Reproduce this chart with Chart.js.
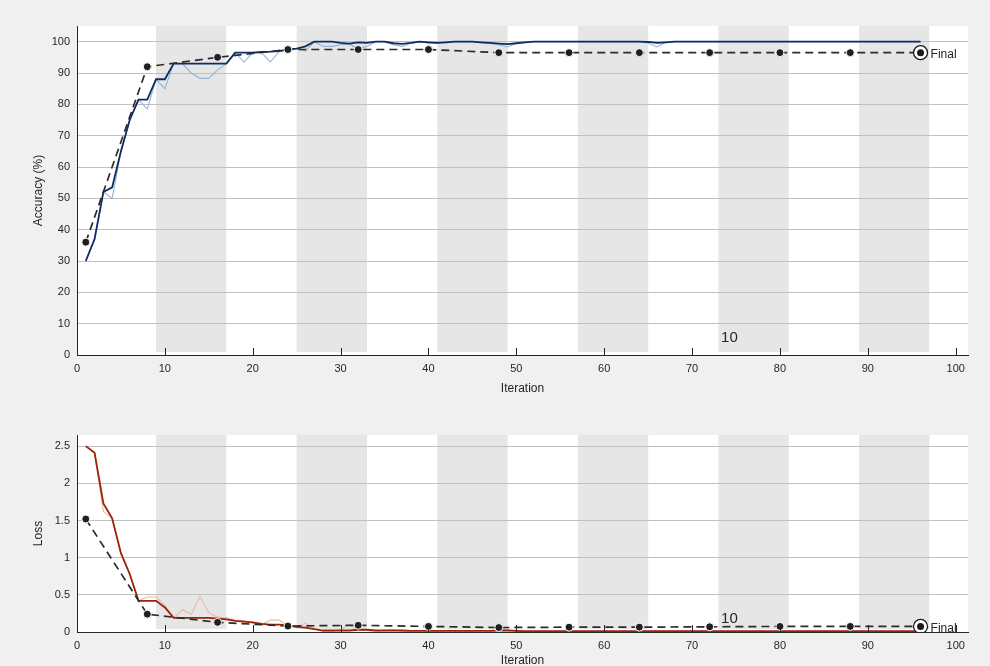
<!DOCTYPE html>
<html>
<head>
<meta charset="utf-8">
<script src="https://cdn.jsdelivr.net/npm/chart.js@4"></script>
<style>
  html, body { margin: 0; padding: 0; background: #f0f0f0; }
  body { width: 990px; height: 666px; position: relative; overflow: hidden; }
  .box { position: absolute; left: 0; width: 990px; }
</style>
</head>
<body>
<div class="box" style="top:0;height:400px"><canvas id="accChart"></canvas></div>
<div class="box" style="top:400px;height:266px"><canvas id="lossChart"></canvas></div>
<script>
// training progress, 12 epochs x 8 iterations
const iterations = Array.from({ length: 96 }, (_, i) => i + 1);

const accRaw = [30, 37, 52, 50, 65, 75, 81.5, 78.5, 88, 85,
  93, 93, 90, 88.3, 88.3, 91, 93, 96.5, 93.5, 96.5,
  96.5, 93.5, 96.8, 97.5, 97.8, 97, 100, 98.5, 98.5, 99,
  99.2, 97.8, 98.5, 100, 100, 99, 98.5, 99.5, 100, 99.5,
  99.5, 100, 100, 100, 100, 99.6, 99.4, 99, 98.3, 99.5,
  100, 100, 100, 100, 100, 100, 100, 100, 100, 100,
  100, 100, 100, 100, 99.6, 98.3, 99.8, 100, 100, 100,
  100, 100, 100, 100, 100, 100, 100, 100, 100, 100,
  100, 100, 100, 100, 100, 100, 100, 100, 100, 100,
  100, 100, 100, 100, 100, 100];

const accSmooth = [30, 37, 52, 53.5, 65, 75, 81.5, 81.5, 88, 88,
  93, 93, 93, 93, 93, 93, 93, 96.5, 96.5, 96.5,
  96.7, 96.8, 97, 97.5, 97.8, 98.5, 100, 100, 100, 99.6,
  99.4, 99.8, 99.6, 100, 100, 99.5, 99.3, 99.6, 100, 99.8,
  99.6, 99.8, 100, 100, 100, 99.8, 99.6, 99.4, 99.2, 99.5,
  99.8, 100, 100, 100, 100, 100, 100, 100, 100, 100,
  100, 100, 100, 100, 99.9, 99.6, 99.8, 100, 100, 100,
  100, 100, 100, 100, 100, 100, 100, 100, 100, 100,
  100, 100, 100, 100, 100, 100, 100, 100, 100, 100,
  100, 100, 100, 100, 100, 100];

const lossRaw = [2.5, 2.41, 1.62, 1.53, 1.06, 0.78, 0.42, 0.47, 0.47, 0.36,
  0.19, 0.3, 0.24, 0.48, 0.26, 0.2, 0.19, 0.16, 0.15, 0.12,
  0.1, 0.16, 0.16, 0.08, 0.06, 0.12, 0.04, 0.01, 0.01, 0.03,
  0.1, 0.03, 0.02, 0.01, 0.02, 0.03, 0.01, 0.01, 0.02, 0.01,
  0.01, 0.02, 0.01, 0.01, 0.01, 0.02, 0.01, 0.02, 0.03, 0.01,
  0.01, 0.01, 0.01, 0.01, 0.01, 0.01, 0.01, 0.01, 0.01, 0.01,
  0.01, 0.01, 0.01, 0.01, 0.01, 0.02, 0.01, 0.01, 0.01, 0.01,
  0.01, 0.01, 0.01, 0.01, 0.01, 0.01, 0.01, 0.01, 0.01, 0.01,
  0.01, 0.01, 0.01, 0.01, 0.01, 0.01, 0.01, 0.01, 0.01, 0.01,
  0.01, 0.01, 0.01, 0.01, 0.01, 0.01];

const lossSmooth = [2.5, 2.41, 1.73, 1.53, 1.06, 0.78, 0.42, 0.42, 0.42, 0.33,
  0.19, 0.19, 0.19, 0.19, 0.19, 0.18, 0.17, 0.15, 0.14, 0.13,
  0.11, 0.1, 0.1, 0.09, 0.07, 0.06, 0.04, 0.02, 0.02, 0.02,
  0.02, 0.03, 0.03, 0.02, 0.02, 0.02, 0.02, 0.015, 0.015, 0.015,
  0.015, 0.015, 0.015, 0.015, 0.015, 0.015, 0.015, 0.02, 0.02, 0.015,
  0.01, 0.01, 0.01, 0.01, 0.01, 0.01, 0.01, 0.01, 0.01, 0.01,
  0.01, 0.01, 0.01, 0.01, 0.01, 0.01, 0.01, 0.01, 0.01, 0.01,
  0.01, 0.01, 0.01, 0.01, 0.01, 0.01, 0.01, 0.01, 0.01, 0.01,
  0.01, 0.01, 0.01, 0.01, 0.01, 0.01, 0.01, 0.01, 0.01, 0.01,
  0.01, 0.01, 0.01, 0.01, 0.01, 0.01];

// validation is run every 8 iterations
const valIterations = [1, 8, 16, 24, 32, 40, 48, 56, 64, 72, 80, 88, 96];
const accVal = [36, 92, 95, 97.5, 97.5, 97.5, 96.5, 96.5, 96.5, 96.5, 96.5, 96.5, 96.5];
const lossVal = [1.52, 0.24, 0.13, 0.08, 0.09, 0.075, 0.06, 0.065, 0.065, 0.07, 0.075, 0.075, 0.075];

// grey background for every other epoch (iteration ranges)
const shadedEpochs = [[9, 17], [25, 33], [41, 49], [57, 65], [73, 81], [89, 97]];
const xTicks = [0, 10, 20, 30, 40, 50, 60, 70, 80, 90, 100];

const FONT = 'Arial, "Liberation Sans", sans-serif';
const pts = (xs, ys) => xs.map((x, i) => ({ x: x, y: ys[i] }));

// white plot area + epoch shading (under the grid), then inner x ticks and text on top
const trainingDecor = {
  id: 'trainingDecor',
  beforeDraw(chart) {
    const { ctx, chartArea: a, scales: { x } } = chart;
    ctx.save();
    ctx.fillStyle = '#ffffff';
    ctx.fillRect(a.left, a.top, a.right - a.left, a.bottom - a.top);
    ctx.fillStyle = '#e6e6e6';
    shadedEpochs.forEach(([s, e]) => {
      const x0 = x.getPixelForValue(s), x1 = x.getPixelForValue(e);
      ctx.fillRect(x0, a.top, x1 - x0, a.bottom - a.top - 3);
    });
    ctx.restore();
  },
  afterDatasetsDraw(chart, args, opts) {
    const { ctx, chartArea: a, scales: { x, y } } = chart;
    ctx.save();
    ctx.strokeStyle = '#262626';
    ctx.lineWidth = 1;
    xTicks.forEach(v => {
      const px = Math.round(x.getPixelForValue(v)) + 0.5;
      ctx.beginPath();
      ctx.moveTo(px, a.bottom);
      ctx.lineTo(px, a.bottom - 7);
      ctx.stroke();
    });
    ctx.fillStyle = '#262626';
    ctx.textBaseline = 'middle';
    ctx.font = '12px ' + FONT;
    const last = opts.finalPoint;
    ctx.fillText('Final', x.getPixelForValue(last.x) + 10, y.getPixelForValue(last.y) + 2);
    ctx.font = '15px ' + FONT;
    ctx.fillText('10', x.getPixelForValue(opts.epochTag.x), y.getPixelForValue(opts.epochTag.y));
    ctx.restore();
  }
};

function makeChart(id, cfg) {
  const lastX = valIterations[valIterations.length - 1];
  const lastY = cfg.val[cfg.val.length - 1];
  return new Chart(document.getElementById(id), {
    type: 'line',
    data: {
      datasets: [
        { data: [{ x: lastX, y: lastY }], borderColor: '#1a1a1a', backgroundColor: '#1a1a1a',
          pointRadius: 3.5, pointBorderWidth: 0, showLine: false, order: 0 },
        { data: [{ x: lastX, y: lastY }], borderColor: '#1a1a1a', backgroundColor: '#ffffff',
          pointRadius: 7, pointBorderWidth: 1.3, showLine: false, order: 1 },
        { data: pts(valIterations, cfg.val), borderColor: '#2b2b2b', borderWidth: 1.7,
          borderDash: [8, 5], pointRadius: 4, pointBackgroundColor: '#1f1f1f',
          pointBorderColor: '#ffffff', pointBorderWidth: 1, order: 2 },
        { data: pts(iterations, cfg.smooth), borderColor: cfg.smoothColor, borderWidth: 1.8,
          pointRadius: 0, order: 4 },
        { data: pts(iterations, cfg.raw), borderColor: cfg.rawColor, borderWidth: 1.1,
          pointRadius: 0, order: 5 }
      ]
    },
    options: {
      responsive: true,
      maintainAspectRatio: false,
      animation: false,
      events: [],
      layout: { padding: { top: cfg.padTop, right: 22, left: 0, bottom: 0 } },
      elements: { line: { tension: 0 } },
      plugins: {
        legend: { display: false },
        tooltip: { enabled: false },
        trainingDecor: { finalPoint: { x: lastX, y: lastY }, epochTag: cfg.epochTag }
      },
      scales: {
        x: {
          type: 'linear', min: 0, max: 101.4,
          afterFit: s => { s.height = cfg.xHeight; },
          afterBuildTicks: s => { s.ticks = xTicks.map(v => ({ value: v })); },
          grid: { display: false, drawTicks: false },
          border: { color: '#262626', width: 1 },
          ticks: { padding: 7, color: '#262626', font: { family: FONT, size: 11 }, maxRotation: 0 },
          title: { display: true, text: 'Iteration', color: '#262626',
                   font: { family: FONT, size: 12 }, padding: { top: 0, bottom: cfg.titlePad } }
        },
        y: {
          min: 0, max: cfg.yMax,
          afterFit: s => { s.width = 77; },
          afterBuildTicks: s => { s.ticks = cfg.yTicks.map(v => ({ value: v })); },
          grid: { color: '#c0c0c0', lineWidth: 1, drawTicks: false },
          border: { color: '#262626', width: 1 },
          ticks: { padding: 7, color: '#262626', font: { family: FONT, size: 11 },
                   callback: v => String(v) },
          title: { display: true, text: cfg.yTitle, color: '#262626',
                   font: { family: FONT, size: 12 }, padding: { top: 31, bottom: 0 } }
        }
      }
    },
    plugins: [trainingDecor]
  });
}

makeChart('accChart', {
  raw: accRaw, smooth: accSmooth, val: accVal,
  rawColor: '#92b5d8', smoothColor: '#0e2c63',
  yMax: 105, yTicks: [0, 10, 20, 30, 40, 50, 60, 70, 80, 90, 100],
  yTitle: 'Accuracy (%)', padTop: 26, xHeight: 45, titlePad: 4,
  epochTag: { x: 73.3, y: 5.4 }
});

makeChart('lossChart', {
  raw: lossRaw, smooth: lossSmooth, val: lossVal,
  rawColor: '#ebb8a2', smoothColor: '#9a2308',
  yMax: 2.65, yTicks: [0, 0.5, 1, 1.5, 2, 2.5],
  yTitle: 'Loss', padTop: 35, xHeight: 34, titlePad: -2,
  epochTag: { x: 73.3, y: 0.175 }
});
</script>
</body>
</html>
